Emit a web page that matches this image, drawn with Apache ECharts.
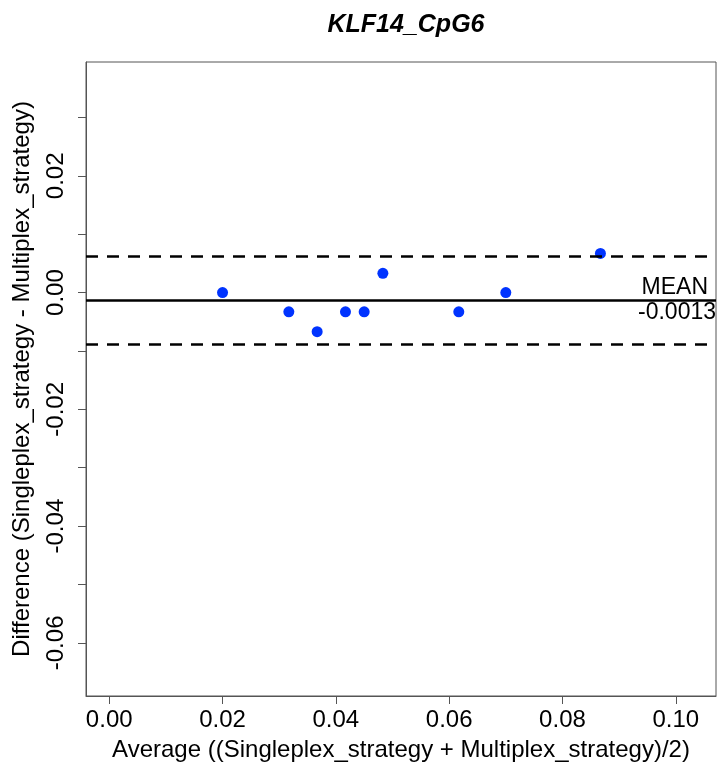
<!DOCTYPE html>
<html>
<head>
<meta charset="utf-8">
<script src="https://cdn.jsdelivr.net/npm/echarts@6/dist/echarts.min.js"></script>
<style>html,body{margin:0;padding:0;background:#fff;}#c{width:717px;height:771px;}</style>
</head>
<body>
<div id="c"></div>
<script>
// Data
const chartTitle = 'KLF14_CpG6';
const xTitle = 'Average ((Singleplex_strategy + Multiplex_strategy)/2)';
const yTitle = 'Difference (Singleplex_strategy - Multiplex_strategy)';
const averages = [0.0200, 0.0317, 0.0367, 0.0417, 0.0450, 0.0483, 0.0617, 0.0700, 0.0867];
const differences = [0.0000, -0.0033, -0.0067, -0.0033, -0.0033, 0.0033, -0.0033, 0.0000, 0.0067];
const meanDiff = -0.0013;
const upperLimit = 0.0063;
const lowerLimit = -0.0089;
const xTicks = [0, 0.02, 0.04, 0.06, 0.08, 0.10];
const yTicks = [-0.06, -0.05, -0.04, -0.03, -0.02, -0.01, 0, 0.01, 0.02, 0.03];
const yTickLabels = [-0.06, -0.04, -0.02, 0, 0.02];

const FONT = 'Liberation Sans, Arial, sans-serif';
const chart = echarts.init(document.getElementById('c'), null, {renderer: 'canvas'});
const points = averages.map((a, i) => [a, differences[i]]);

chart.setOption({
  animation: false,
  backgroundColor: '#ffffff',
  title: {
    text: chartTitle,
    left: 401, top: 8, textAlign: 'center',
    textStyle: {fontFamily: FONT, fontSize: 25, fontWeight: 'bold', fontStyle: 'italic', color: '#000'}
  },
  grid: {left: 86, right: 1, top: 62, bottom: 75, show: true, borderColor: '#555', borderWidth: 1, backgroundColor: 'transparent'},
  xAxis: {
    type: 'value', min: -0.0041, max: 0.1071,
    name: xTitle, nameLocation: 'middle', nameGap: 42,
    nameTextStyle: {fontFamily: FONT, fontSize: 24, color: '#000'},
    axisLine: {show: true, onZero: false, lineStyle: {color: '#555', width: 1}},
    axisTick: {show: true, length: 8, lineStyle: {color: '#555'}, customValues: xTicks},
    axisLabel: {customValues: xTicks, margin: 12, fontFamily: FONT, fontSize: 24, color: '#000',
      formatter: v => v.toFixed(2)},
    splitLine: {show: false}
  },
  yAxis: {
    type: 'value', min: -0.0691, max: 0.0395,
    name: yTitle, nameLocation: 'middle', nameGap: 52, nameRotate: 90,
    nameTextStyle: {fontFamily: FONT, fontSize: 24, color: '#000'},
    axisLine: {show: true, onZero: false, lineStyle: {color: '#555', width: 1}},
    axisTick: {show: true, length: 8, lineStyle: {color: '#555'}, customValues: yTicks},
    axisLabel: {customValues: yTickLabels, rotate: 90, margin: 18, fontFamily: FONT, fontSize: 24, color: '#000',
      formatter: v => v.toFixed(2)},
    splitLine: {show: false}
  },
  series: [{
    type: 'scatter',
    data: points,
    symbol: 'circle',
    symbolSize: 11,
    itemStyle: {color: '#0033ff', opacity: 1},
    markLine: {
      silent: true,
      precision: 4,
      symbol: ['none', 'none'],
      animation: false,
      data: [
        {yAxis: upperLimit, lineStyle: {color: '#000', width: 2.5, type: [12, 9]}, label: {show: false}},
        {yAxis: lowerLimit, lineStyle: {color: '#000', width: 2.5, type: [12, 9]}, label: {show: false}},
        {yAxis: meanDiff, lineStyle: {color: '#000', width: 2.5, type: 'solid'},
          label: {show: true, position: 'insideEndTop', formatter: 'MEAN', distance: [8, 1],
            fontFamily: FONT, fontSize: 23, color: '#000'}},
        {yAxis: meanDiff, lineStyle: {color: 'rgba(0,0,0,0)', width: 1},
          label: {show: true, position: 'insideEndBottom', formatter: meanDiff.toFixed(4), distance: [0, 1],
            fontFamily: FONT, fontSize: 23, color: '#000'}}
      ]
    }
  }]
});
</script>
</body>
</html>
